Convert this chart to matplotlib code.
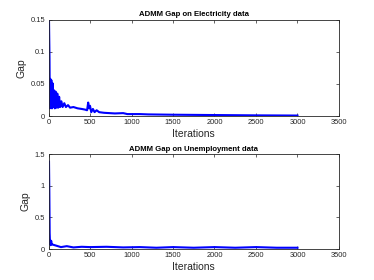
import matplotlib
matplotlib.use("Agg")
import matplotlib.pyplot as plt

# ADMM gap traces
elec_iter = [6, 12, 16, 22, 28, 34, 42, 50, 58, 68, 76, 86, 96, 106, 116, 128,
             140, 155, 170, 190, 210, 235, 260, 300, 350, 400, 440, 465, 478,
             490, 500, 515, 535, 555, 580, 610, 670, 800, 900, 950, 1000, 1100,
             1200, 1500, 2000, 2500, 3000]
elec_gap = [0.15, 0.09, 0.012, 0.058, 0.013, 0.056, 0.012, 0.051, 0.014, 0.040,
            0.012, 0.038, 0.013, 0.035, 0.013, 0.030, 0.014, 0.023, 0.014,
            0.020, 0.014, 0.017, 0.013, 0.014, 0.012, 0.011, 0.010, 0.009,
            0.021, 0.012, 0.016, 0.006, 0.011, 0.006, 0.009, 0.006, 0.005,
            0.004, 0.0045, 0.003, 0.003, 0.003, 0.0025, 0.002, 0.0015, 0.001,
            0.0007]

unemp_iter = [6, 10, 14, 18, 24, 32, 40, 50, 75, 100, 150, 220, 300, 400, 500,
              700, 900, 1100, 1300, 1500, 1750, 2000, 2250, 2500, 2750, 3000]
unemp_gap = [1.38, 0.9, 0.25, 0.10, 0.06, 0.13, 0.07, 0.07, 0.06, 0.05, 0.03,
             0.045, 0.025, 0.035, 0.03, 0.035, 0.025, 0.03, 0.02, 0.03, 0.02,
             0.03, 0.02, 0.03, 0.02, 0.02]

grey = "#262626"
plt.rcParams["font.family"] = ["Liberation Sans", "DejaVu Sans"]

fig = plt.figure(figsize=(3.74, 2.8), dpi=100)

panels = [
    ([0.1297, 0.5857, 0.7767, 0.343], elec_iter, elec_gap,
     "ADMM Gap on Electricity data", [0, 0.05, 0.1, 0.15], ["0", "0.05", "0.1", "0.15"], 0.15),
    ([0.1297, 0.1107, 0.7767, 0.339], unemp_iter, unemp_gap,
     "ADMM Gap on Unemployment data", [0, 0.5, 1, 1.5], ["0", "0.5", "1", "1.5"], 1.5),
]

for rect, x, y, title, yt, ytl, ymax in panels:
    ax = fig.add_axes(rect)
    ax.plot(x, y, color="blue", lw=1.5)
    ax.set_xlim(0, 3500)
    ax.set_ylim(0, ymax)
    ax.set_xticks(range(0, 3501, 500))
    ax.set_yticks(yt)
    ax.set_yticklabels(ytl)
    ax.tick_params(direction="in", top=True, right=True, labelsize=5.4,
                   colors=grey, length=2, width=0.5, pad=2.5)
    for s in ax.spines.values():
        s.set_color(grey)
        s.set_linewidth(0.6)
    ax.set_title(title, fontsize=5.6, fontweight="bold", color="black", pad=2.5)
    ax.set_xlabel("Iterations", fontsize=7.5, color=grey, labelpad=1.5)
    ax.set_ylabel("Gap", fontsize=7.5, color=grey, labelpad=3)

fig.savefig("out.png", dpi=100)
